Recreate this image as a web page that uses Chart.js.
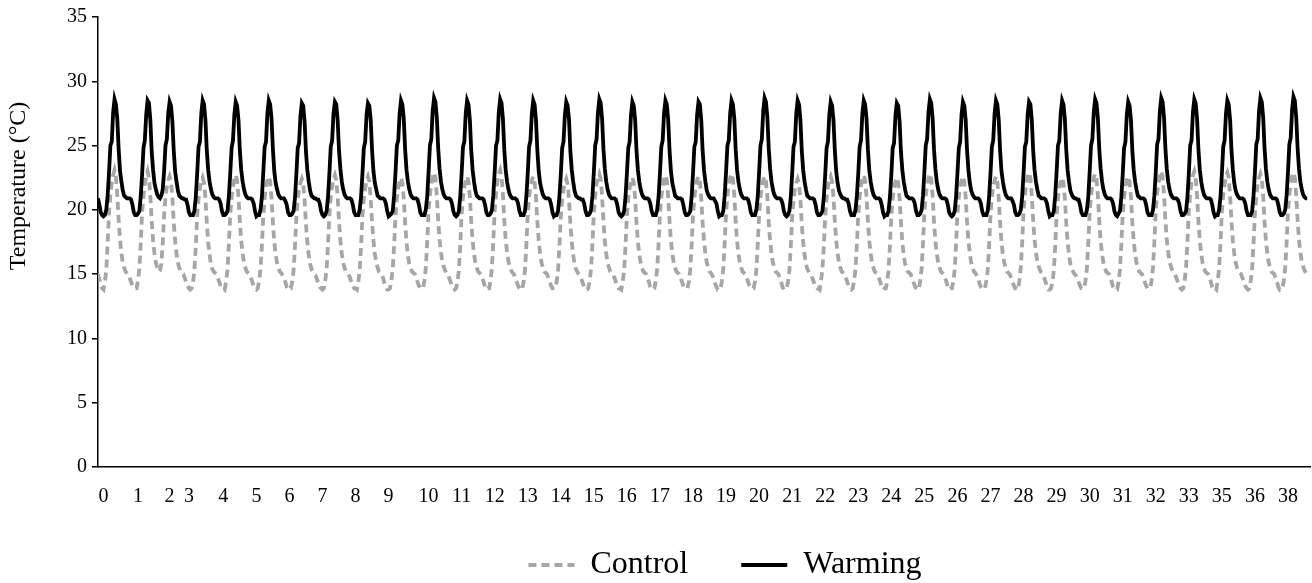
<!DOCTYPE html>
<html><head><meta charset="utf-8">
<script src="https://cdn.jsdelivr.net/npm/chart.js@4.4.1/dist/chart.umd.min.js"></script>
<style>html,body{margin:0;padding:0;background:#fff;}</style>
</head><body>
<canvas id="c" width="1312" height="583"></canvas>
<script>
const seriesNames = ['Control', 'Warming'];
const yAxisTitle = 'Temperature (°C)';

// hourly readings (°C)
const controlTemps = [
15.0,14.6,14.1,
13.9,13.8,14.4,15.3,17.4,19.8,21.2,22.1,22.7,23.1,22.6,21.2,19.2,17.7,16.6,15.9,15.5,15.2,15.1,15.0,14.7,14.4,14.1,13.9,
13.9,13.9,14.5,15.4,17.3,19.7,21.1,22.0,22.6,23.0,22.5,21.1,19.1,17.6,16.6,15.9,15.5,15.2,
15.3,15.8,17.4,19.6,21.0,21.8,22.3,22.6,22.2,21.0,19.0,17.6,16.6,15.9,15.5,15.2,15.1,15.0,14.7,14.4,14.1,13.9,
13.8,13.9,14.4,15.3,17.2,19.5,20.9,21.7,22.2,22.5,22.1,20.9,19.0,17.5,16.5,15.8,15.4,15.2,15.1,15.0,14.7,14.4,14.1,13.9,
13.9,13.8,14.4,15.3,17.3,19.6,21.0,21.8,22.4,22.7,22.3,21.0,19.1,17.6,16.6,15.9,15.5,15.2,15.1,15.0,14.7,14.4,14.1,13.9,
13.8,13.9,14.5,15.4,17.2,19.5,20.9,21.8,22.3,22.6,22.2,20.9,19.0,17.5,16.5,15.9,15.5,15.2,15.1,14.9,14.7,14.4,14.0,13.8,
13.9,13.9,14.4,15.3,17.1,19.4,20.8,21.6,22.1,22.4,22.0,20.8,18.9,17.5,16.5,15.8,15.4,15.2,15.0,14.9,14.6,14.3,14.0,13.9,
13.8,13.9,14.5,15.4,17.3,19.6,21.0,21.8,22.4,22.7,22.3,21.0,19.1,17.6,16.6,15.9,15.5,15.2,15.1,15.0,14.7,14.4,14.1,13.9,
13.9,13.8,14.4,15.3,17.2,19.5,20.9,21.7,22.3,22.6,22.2,20.9,19.0,17.6,16.6,15.9,15.5,15.2,15.1,15.0,14.7,14.3,14.0,13.8,
13.8,13.9,14.5,15.4,17.2,19.5,20.9,21.7,22.2,22.5,22.1,20.9,19.0,17.5,16.5,15.8,15.5,15.2,15.1,15.0,14.7,14.4,14.1,13.9,
13.9,13.9,14.5,15.5,17.4,19.8,21.2,22.0,22.6,22.9,22.5,21.1,19.2,17.7,16.7,16.0,15.6,15.3,15.1,15.0,14.7,14.4,14.1,13.9,
13.8,13.9,14.4,15.3,17.2,19.6,21.0,21.8,22.3,22.6,22.2,21.0,19.1,17.6,16.6,15.9,15.5,15.2,15.1,15.0,14.7,14.4,14.0,13.8,
13.9,13.9,14.5,15.5,17.5,19.9,21.3,22.2,22.8,23.1,22.6,21.2,19.2,17.7,16.7,16.0,15.6,15.3,15.1,15.0,14.7,14.4,14.1,13.9,
13.8,13.8,14.4,15.3,17.2,19.6,21.0,21.8,22.3,22.6,22.2,21.0,19.1,17.6,16.6,15.9,15.5,15.2,15.1,15.0,14.7,14.4,14.1,13.9,
13.9,13.9,14.4,15.3,17.1,19.4,20.8,21.6,22.1,22.4,22.0,20.8,18.9,17.5,16.5,15.8,15.4,15.2,15.0,14.9,14.6,14.3,14.0,13.8,
13.8,13.9,14.5,15.4,17.4,19.7,21.1,22.0,22.5,22.8,22.4,21.1,19.1,17.6,16.6,15.9,15.5,15.2,15.1,15.0,14.7,14.4,14.1,13.9,
13.9,13.8,14.4,15.3,17.2,19.5,20.9,21.7,22.2,22.5,22.1,20.9,19.0,17.5,16.5,15.9,15.5,15.2,15.1,15.0,14.7,14.4,14.0,13.8,
13.8,13.9,14.5,15.4,17.3,19.6,21.0,21.8,22.4,22.7,22.3,21.0,19.1,17.6,16.6,15.9,15.5,15.2,15.1,15.0,14.7,14.4,14.1,13.9,
13.9,13.9,14.4,15.3,17.2,19.5,20.9,21.8,22.3,22.6,22.2,20.9,19.0,17.6,16.6,15.9,15.5,15.2,15.1,14.9,14.7,14.3,14.0,13.8,
13.8,13.8,14.5,15.4,17.4,19.7,21.1,21.9,22.5,22.8,22.4,21.1,19.1,17.6,16.6,15.9,15.5,15.2,15.1,15.0,14.7,14.4,14.1,13.9,
13.9,13.9,14.4,15.3,17.3,19.6,21.0,21.8,22.3,22.6,22.2,21.0,19.0,17.6,16.6,15.9,15.5,15.2,15.1,15.0,14.7,14.4,14.0,13.8,
13.8,13.9,14.4,15.3,17.1,19.4,20.8,21.6,22.1,22.4,22.0,20.8,18.9,17.5,16.5,15.8,15.4,15.2,15.0,14.9,14.6,14.3,14.0,13.9,
13.9,13.8,14.5,15.4,17.2,19.5,20.9,21.8,22.3,22.6,22.2,21.0,19.1,17.6,16.6,15.9,15.5,15.2,15.1,15.0,14.7,14.4,14.1,13.9,
13.8,13.9,14.5,15.4,17.3,19.6,21.0,21.9,22.4,22.7,22.3,21.0,19.1,17.6,16.6,15.9,15.5,15.2,15.1,15.0,14.7,14.4,14.0,13.8,
13.9,13.9,14.4,15.3,17.2,19.5,20.9,21.7,22.2,22.5,22.1,20.9,19.0,17.5,16.5,15.8,15.5,15.2,15.1,15.0,14.7,14.4,14.1,13.9,
13.8,13.8,14.5,15.4,17.4,19.7,21.1,21.9,22.5,22.8,22.4,21.1,19.1,17.6,16.6,15.9,15.5,15.2,15.1,15.0,14.7,14.4,14.0,13.8,
13.9,13.9,14.4,15.3,17.3,19.6,21.0,21.8,22.3,22.6,22.2,21.0,19.0,17.6,16.6,15.9,15.5,15.2,15.1,14.9,14.7,14.3,14.0,13.9,
13.8,13.9,14.5,15.3,17.2,19.6,21.0,21.8,22.3,22.6,22.2,20.9,19.0,17.5,16.5,15.9,15.5,15.2,15.1,15.0,14.7,14.4,14.1,13.9,
13.9,13.8,14.5,15.5,17.4,19.8,21.2,22.0,22.6,22.9,22.5,21.1,19.2,17.7,16.7,16.0,15.6,15.3,15.1,15.0,14.7,14.4,14.0,13.8,
13.8,13.9,14.4,15.3,17.2,19.5,20.9,21.7,22.2,22.5,22.1,20.9,19.0,17.5,16.5,15.8,15.4,15.2,15.0,14.9,14.7,14.4,14.1,13.9,
13.9,13.9,14.5,15.4,17.4,19.7,21.1,21.9,22.5,22.8,22.4,21.1,19.1,17.6,16.6,15.9,15.5,15.2,15.1,15.0,14.7,14.4,14.0,13.8,
13.8,13.8,14.4,15.3,17.3,19.6,21.0,21.8,22.3,22.6,22.2,21.0,19.0,17.6,16.6,15.9,15.5,15.2,15.1,15.0,14.7,14.4,14.1,13.9,
13.9,13.9,14.5,15.5,17.5,19.9,21.3,22.1,22.7,23.0,22.6,21.2,19.2,17.7,16.7,16.0,15.6,15.3,15.1,15.0,14.7,14.4,14.1,13.9,
13.8,13.9,14.5,15.5,17.5,19.9,21.3,22.1,22.7,23.0,22.5,21.1,19.1,17.6,16.6,15.9,15.5,15.2,15.1,15.0,14.7,14.4,14.0,13.8,
13.9,13.8,14.5,15.4,17.4,19.8,21.2,22.0,22.6,22.9,22.5,21.1,19.1,17.6,16.6,15.9,15.5,15.2,15.1,15.0,14.7,14.4,14.1,13.9,
13.8,13.9,14.5,15.4,17.4,19.7,21.1,22.0,22.5,22.8,22.4,21.1,19.1,17.6,16.6,15.9,15.5,15.2,15.1,15.0,14.7,14.4,14.0,13.8,
13.9,13.9,14.5,15.5,17.4,19.8,21.2,22.0,22.6,22.9,22.5,21.1,19.2,17.7,16.7,16.0,15.6,15.3,15.1,15.0
];

const warmingTemps = [
20.9,20.4,19.8,
19.6,19.5,19.6,20.0,21.1,22.9,25.0,25.3,27.6,28.6,28.2,27.1,24.7,23.0,22.2,21.5,21.1,21.0,20.9,20.9,20.9,20.8,20.4,19.8,
19.6,19.6,19.7,19.9,21.0,22.7,24.8,25.4,27.4,28.5,28.3,27.0,24.5,23.1,22.1,21.6,21.2,21.0,
20.9,21.1,21.6,23.0,25.0,25.5,27.5,28.4,28.1,26.9,24.6,23.0,22.2,21.5,21.1,21.0,20.9,20.9,20.8,20.8,20.4,19.8,
19.6,19.6,19.6,19.9,21.0,22.8,24.9,25.3,27.5,28.5,28.2,27.0,24.6,23.1,22.2,21.6,21.2,21.0,20.9,20.9,20.9,20.8,20.5,19.9,
19.6,19.6,19.7,19.9,21.0,22.8,24.8,25.4,27.4,28.4,28.1,27.0,24.6,23.1,22.2,21.6,21.2,21.0,20.9,20.9,20.9,20.8,20.5,19.9,
19.5,19.6,19.6,20.0,21.0,22.9,24.9,25.3,27.5,28.5,28.2,27.1,24.7,23.0,22.1,21.6,21.2,21.0,20.9,20.9,20.9,20.7,20.4,19.8,
19.6,19.6,19.7,19.9,20.9,22.7,24.8,25.2,27.3,28.3,28.1,26.9,24.5,23.1,22.2,21.5,21.1,21.0,20.9,20.9,20.8,20.8,20.5,19.9,
19.6,19.5,19.6,19.9,21.0,22.8,24.9,25.4,27.5,28.4,28.2,27.0,24.6,23.2,22.2,21.6,21.2,21.0,20.9,20.9,20.9,20.8,20.4,19.8,
19.6,19.6,19.6,20.0,21.0,22.8,24.8,25.3,27.4,28.3,28.1,27.0,24.6,23.0,22.1,21.6,21.1,21.0,20.9,20.9,20.9,20.8,20.5,19.9,
19.5,19.6,19.7,19.9,21.1,22.9,25.0,25.4,27.5,28.5,28.2,27.1,24.7,23.1,22.2,21.6,21.2,21.0,20.9,20.9,20.9,20.8,20.4,19.8,
19.6,19.6,19.6,20.0,21.0,22.9,25.0,25.5,27.7,28.7,28.4,27.2,24.8,23.2,22.2,21.6,21.2,21.0,20.9,20.9,20.9,20.8,20.5,19.9,
19.6,19.5,19.6,19.9,21.0,22.8,24.9,25.3,27.5,28.5,28.2,27.0,24.6,23.1,22.2,21.5,21.1,21.0,20.9,20.9,20.9,20.8,20.4,19.8,
19.6,19.6,19.7,20.0,21.1,22.9,25.0,25.4,27.6,28.6,28.3,27.1,24.7,23.1,22.2,21.6,21.2,21.0,20.9,20.9,20.9,20.8,20.5,19.9,
19.6,19.6,19.6,19.9,21.0,22.8,24.9,25.4,27.5,28.5,28.2,27.0,24.6,23.0,22.1,21.6,21.2,21.0,20.9,20.9,20.9,20.8,20.4,19.8,
19.5,19.6,19.6,19.9,21.0,22.7,24.8,25.3,27.4,28.4,28.1,27.0,24.5,23.1,22.2,21.5,21.1,21.0,20.9,20.9,20.8,20.8,20.5,19.9,
19.6,19.6,19.7,20.0,21.1,22.9,25.0,25.5,27.6,28.6,28.3,27.1,24.7,23.2,22.2,21.6,21.2,21.0,20.9,20.9,20.9,20.8,20.4,19.8,
19.6,19.5,19.6,19.9,21.0,22.8,24.8,25.3,27.4,28.4,28.1,27.0,24.6,23.1,22.2,21.6,21.2,21.0,20.9,20.9,20.9,20.8,20.5,19.9,
19.6,19.6,19.6,20.0,21.0,22.8,24.9,25.4,27.5,28.5,28.2,27.0,24.6,23.0,22.1,21.6,21.1,21.0,20.9,20.9,20.9,20.8,20.4,19.8,
19.6,19.6,19.7,19.9,21.0,22.8,24.9,25.3,27.4,28.4,28.2,27.0,24.6,23.1,22.2,21.5,21.2,21.0,20.9,20.9,20.9,20.7,20.5,19.9,
19.5,19.6,19.6,19.9,21.1,22.9,25.0,25.4,27.5,28.5,28.2,27.1,24.7,23.1,22.2,21.6,21.2,21.0,20.9,20.9,20.9,20.8,20.4,19.8,
19.6,19.6,19.6,20.0,21.0,22.9,25.0,25.5,27.7,28.7,28.4,27.2,24.8,23.2,22.2,21.6,21.2,21.0,20.9,20.9,20.9,20.8,20.5,19.9,
19.6,19.5,19.6,19.9,21.0,22.8,24.9,25.3,27.5,28.5,28.2,27.0,24.6,23.1,22.2,21.6,21.1,21.0,20.9,20.9,20.9,20.8,20.4,19.8,
19.6,19.6,19.7,19.9,21.0,22.7,24.8,25.3,27.4,28.4,28.1,27.0,24.6,23.0,22.1,21.5,21.2,21.0,20.9,20.9,20.8,20.8,20.5,19.9,
19.6,19.6,19.6,20.0,21.1,22.8,24.9,25.4,27.5,28.5,28.2,27.1,24.7,23.1,22.2,21.6,21.2,21.0,20.9,20.9,20.9,20.8,20.4,19.8,
19.5,19.6,19.6,19.9,21.0,22.7,24.8,25.2,27.3,28.3,28.1,26.9,24.5,23.1,22.2,21.6,21.1,21.0,20.9,20.9,20.9,20.8,20.5,19.9,
19.6,19.6,19.7,20.0,21.1,22.9,25.0,25.5,27.6,28.6,28.3,27.1,24.7,23.2,22.2,21.6,21.2,21.0,20.9,20.9,20.9,20.8,20.4,19.8,
19.6,19.5,19.6,19.9,21.0,22.8,24.8,25.3,27.4,28.4,28.1,27.0,24.6,23.1,22.1,21.5,21.2,21.0,20.9,20.9,20.9,20.8,20.5,19.9,
19.6,19.6,19.6,19.9,21.0,22.8,24.9,25.4,27.5,28.5,28.2,27.0,24.6,23.0,22.2,21.6,21.2,21.0,20.9,20.9,20.9,20.7,20.4,19.8,
19.6,19.6,19.7,20.0,21.0,22.8,24.9,25.3,27.4,28.4,28.2,27.0,24.6,23.1,22.2,21.6,21.1,21.0,20.9,20.9,20.9,20.8,20.5,19.9,
19.5,19.6,19.6,19.9,21.1,22.9,25.0,25.4,27.5,28.5,28.2,27.1,24.7,23.1,22.2,21.5,21.2,21.0,20.9,20.9,20.8,20.8,20.4,19.8,
19.6,19.6,19.6,20.0,21.0,22.9,25.0,25.5,27.6,28.6,28.3,27.1,24.7,23.2,22.2,21.6,21.2,21.0,20.9,20.9,20.9,20.8,20.5,19.9,
19.6,19.5,19.7,19.9,21.0,22.7,24.8,25.3,27.4,28.4,28.1,27.0,24.6,23.1,22.2,21.6,21.1,21.0,20.9,20.9,20.9,20.8,20.4,19.8,
19.6,19.6,19.6,20.0,21.1,22.9,25.1,25.5,27.7,28.7,28.4,27.2,24.8,23.2,22.2,21.6,21.2,21.0,20.9,20.9,20.9,20.8,20.5,19.9,
19.6,19.6,19.7,19.9,21.0,22.8,25.0,25.4,27.6,28.6,28.3,27.1,24.7,23.1,22.2,21.6,21.2,21.0,20.9,20.9,20.9,20.8,20.4,19.8,
19.5,19.6,19.6,20.0,21.0,22.8,24.9,25.4,27.5,28.5,28.2,27.0,24.6,23.1,22.1,21.5,21.2,21.0,20.9,20.9,20.9,20.8,20.5,19.9,
19.6,19.6,19.6,19.9,21.1,22.9,25.1,25.5,27.7,28.7,28.4,27.2,24.8,23.2,22.2,21.6,21.2,21.0,20.9,20.9,20.9,20.8,20.4,19.8,
19.6,19.6,19.7,20.0,21.1,22.9,25.1,25.6,27.8,28.8,28.5,27.2,24.8,23.2,22.2,21.6,21.2,21.0,20.9,20.9
];

// x-axis day labels and the reading index at which each is shown
const tickIndex  = [4,29,52,66,91,115,139,163,187,211,240,264,288,312,336,360,384,408,432,456,480,504,528,552,576,600,624,648,672,696,720,744,768,792,816,840,864];
const tickLabels = ['0','1','2','3','4','5','6','7','8','9','10','11','12','13','14','15','16','17','18','19','20','21','22','23','24','25','26','27','28','29','30','31','32','33','35','36','38'];
const yTickValues = [0,5,10,15,20,25,30,35];

const serif = '"Liberation Serif", "Times New Roman", serif';

// y-axis title drawn as rotated text, positioned like the reference
const axisTitlePlugin = {
  id: 'axisTitle',
  afterDraw(chart) {
    const ctx = chart.ctx;
    ctx.save();
    ctx.translate(19, 186);
    ctx.rotate(-Math.PI / 2);
    ctx.font = '24px ' + serif;
    ctx.fillStyle = '#000';
    ctx.textAlign = 'center';
    ctx.textBaseline = 'middle';
    ctx.fillText(yAxisTitle, 0, 0);
    ctx.restore();
  }
};

// place the legend block where the reference has it (keep its clip box to the canvas bottom)
const legendShiftPlugin = {
  id: 'legendShift',
  afterLayout(chart) {
    const lg = chart.legend;
    if (lg) { lg.left += 68; lg.right += 68; lg.top -= 13; }
  }
};

new Chart(document.getElementById('c'), {
  type: 'line',
  data: {
    datasets: [
      { label: seriesNames[0], data: controlTemps.map((v, i) => ({x: i, y: v})),
        borderColor: '#A6A6A6', backgroundColor: '#A6A6A6', borderWidth: 3.8, borderDash: [8, 5],
        pointRadius: 0, pointStyle: 'line', tension: 0, fill: false, order: 1 },
      { label: seriesNames[1], data: warmingTemps.map((v, i) => ({x: i, y: v})),
        borderColor: '#000000', backgroundColor: '#000000', borderWidth: 3.8,
        pointRadius: 0, pointStyle: 'line', tension: 0, fill: false, order: 0 }
    ]
  },
  plugins: [axisTitlePlugin, legendShiftPlugin],
  options: {
    responsive: false,
    animation: false,
    devicePixelRatio: 1,
    layout: { padding: { top: 17, right: 2, left: 4, bottom: 0 } },
    scales: {
      x: {
        type: 'linear', min: 0, max: 880,
        grid: { display: false, drawTicks: false },
        border: { display: true, color: '#000', width: 1.5 },
        afterBuildTicks: s => { s.ticks = tickIndex.map(v => ({ value: v })); },
        afterFit: s => { s.height = 42; s.paddingLeft = 0; s.paddingRight = 0; },
        ticks: {
          autoSkip: false, maxRotation: 0, padding: 18, color: '#000',
          font: { family: serif, size: 20 },
          callback: v => { const k = tickIndex.indexOf(v); return k >= 0 ? tickLabels[k] : ''; }
        }
      },
      y: {
        min: 0, max: 35,
        afterBuildTicks: s => { s.ticks = yTickValues.map(v => ({ value: v })); },
        afterFit: s => { s.width = 94; s.paddingTop = 0; s.paddingBottom = 0; },
        grid: { drawOnChartArea: false, drawTicks: true, tickLength: 6, color: '#000', lineWidth: 1.5 },
        border: { display: true, color: '#000', width: 1.5 },
        ticks: { padding: 5, color: '#000', font: { family: serif, size: 20 } }
      }
    },
    plugins: {
      tooltip: { enabled: false },
      legend: {
        position: 'bottom',
        maxHeight: 74,
        labels: {
          usePointStyle: true, pointStyleWidth: 46, padding: 53,
          color: '#000', font: { family: serif, size: 32 },
          sort: (a, b) => a.datasetIndex - b.datasetIndex,
          generateLabels: chart => {
            const items = Chart.defaults.plugins.legend.labels.generateLabels(chart);
            items.forEach(it => {
              const ds = chart.data.datasets[it.datasetIndex];
              it.lineDash = ds.borderDash || [];
              it.lineWidth = ds.borderWidth;
              it.strokeStyle = ds.borderColor;
            });
            return items;
          }
        }
      }
    }
  }
});
</script>
</body></html>
